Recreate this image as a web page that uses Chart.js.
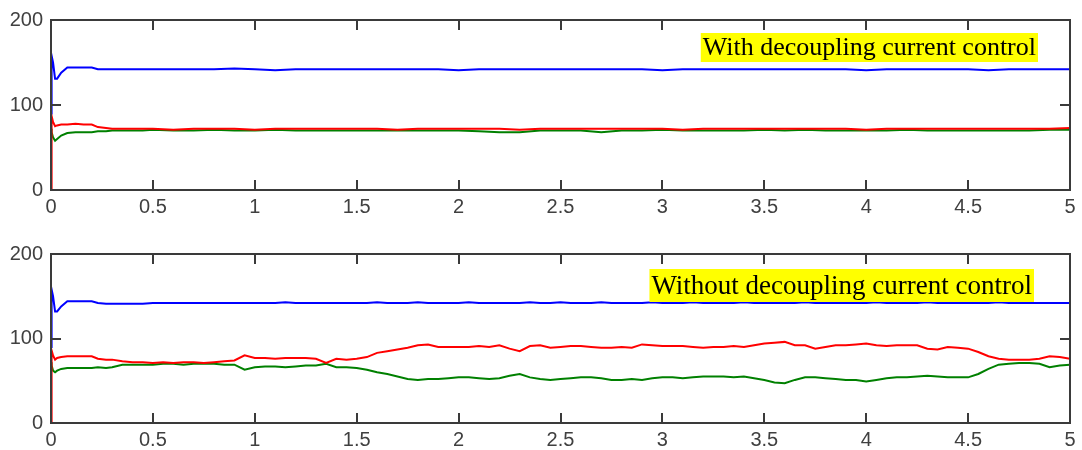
<!DOCTYPE html>
<html>
<head>
<meta charset="utf-8">
<script src="https://cdn.jsdelivr.net/npm/chart.js@4/dist/chart.umd.min.js"></script>
<style>
  body { margin: 0; background: #fff; }
  .box { position: relative; width: 1082px; height: 225px; }
</style>
</head>
<body>
<div class="box"><canvas id="chart_top"></canvas></div>
<div class="box"><canvas id="chart_bottom"></canvas></div>
<script>
// time axis (s): fine steps for the start-up transient, then regular samples
const timeEarly = [0, 0.003, 0.01, 0.02, 0.03, 0.05, 0.08, 0.12, 0.16, 0.2, 0.23, 0.27, 0.3, 0.35, 0.4, 0.45];
const timeTopTail = [0.5, 0.6, 0.7, 0.8, 0.9, 1.0, 1.1, 1.2, 1.3, 1.4,
  1.5, 1.6, 1.7, 1.8, 1.9, 2.0, 2.1, 2.2, 2.3, 2.4,
  2.5, 2.6, 2.7, 2.8, 2.9, 3.0, 3.1, 3.2, 3.3, 3.4,
  3.5, 3.6, 3.7, 3.8, 3.9, 4.0, 4.1, 4.2, 4.3, 4.4,
  4.5, 4.6, 4.7, 4.8, 4.9, 5.0];
const timeBottomTail = [0.5, 0.55, 0.6, 0.65, 0.7, 0.75, 0.8, 0.85, 0.9, 0.95,
  1.0, 1.05, 1.1, 1.15, 1.2, 1.25, 1.3, 1.35, 1.4, 1.45,
  1.5, 1.55, 1.6, 1.65, 1.7, 1.75, 1.8, 1.85, 1.9, 1.95,
  2.0, 2.05, 2.1, 2.15, 2.2, 2.25, 2.3, 2.35, 2.4, 2.45,
  2.5, 2.55, 2.6, 2.65, 2.7, 2.75, 2.8, 2.85, 2.9, 2.95,
  3.0, 3.05, 3.1, 3.15, 3.2, 3.25, 3.3, 3.35, 3.4, 3.45,
  3.5, 3.55, 3.6, 3.65, 3.7, 3.75, 3.8, 3.85, 3.9, 3.95,
  4.0, 4.05, 4.1, 4.15, 4.2, 4.25, 4.3, 4.35, 4.4, 4.45,
  4.5, 4.55, 4.6, 4.65, 4.7, 4.75, 4.8, 4.85, 4.9, 4.95, 5.0];

// With decoupling current control
const topBlue = [90, 158, 150, 131, 131, 138, 144, 144, 144, 144, 142, 142, 142, 142, 142, 142,
  142, 142, 142, 142, 143, 142, 141, 142, 142, 142,
  142, 142, 142, 142, 142, 141, 142, 142, 142, 142,
  142, 142, 142, 142, 142, 141, 142, 142, 142, 142,
  142, 142, 142, 142, 142, 141, 142, 142, 142, 142,
  142, 141, 142, 142, 142, 142];
const topRed = [0, 87, 80, 75, 76, 77, 77, 78, 77, 77, 74, 73, 72, 72, 72, 72,
  72, 71, 72, 72, 72, 71, 72, 72, 72, 72,
  72, 72, 71, 72, 72, 72, 72, 72, 71, 72,
  72, 72, 72, 72, 72, 72, 71, 72, 72, 72,
  72, 72, 72, 72, 72, 71, 72, 72, 72, 72,
  72, 72, 72, 72, 72, 73];
const topGreen = [72, 68, 62, 58, 60, 64, 67, 68, 68, 68, 69, 69, 70, 70, 70, 70,
  71, 70, 70, 71, 70, 70, 71, 70, 70, 70,
  70, 70, 70, 70, 70, 70, 69, 68, 68, 70,
  70, 70, 68, 70, 70, 71, 70, 70, 70, 70,
  71, 70, 71, 70, 70, 70, 70, 71, 70, 70,
  70, 70, 70, 70, 71, 71];

// Without decoupling current control
const bottomBlue = [90, 158, 150, 132, 132, 138, 144, 144, 144, 144, 142, 141, 141, 141, 141, 141,
  142, 142, 142, 142, 142, 142, 142, 142, 142, 142,
  142, 142, 142, 143, 142, 142, 142, 142, 142, 142,
  142, 142, 143, 142, 142, 142, 143, 142, 142, 142,
  142, 143, 142, 142, 142, 142, 142, 143, 142, 142,
  143, 142, 142, 142, 143, 142, 142, 142, 142, 143,
  142, 142, 142, 143, 142, 142, 142, 142, 143, 142,
  142, 142, 142, 142, 143, 142, 142, 142, 142, 142,
  142, 143, 142, 142, 142, 142, 143, 142, 142, 142,
  142, 142, 142, 143, 142, 142, 142, 142, 142, 142, 142];
const bottomRed = [0, 86, 80, 75, 77, 78, 79, 79, 79, 79, 76, 75, 75, 73, 72, 72,
  71, 72, 71, 72, 72, 71, 72, 73, 74, 80,
  77, 77, 76, 77, 77, 77, 76, 71, 76, 75,
  76, 78, 83, 85, 87, 89, 92, 93, 90, 90,
  90, 90, 91, 90, 92, 88, 85, 91, 92, 89,
  90, 91, 91, 90, 89, 89, 90, 89, 93, 92,
  91, 91, 91, 90, 89, 90, 90, 91, 90, 92,
  94, 95, 96, 92, 92, 88, 90, 92, 92, 93,
  94, 92, 91, 92, 92, 92, 88, 87, 90, 89,
  88, 84, 79, 76, 75, 75, 75, 76, 79, 78, 76];
const bottomGreen = [72, 68, 62, 60, 62, 64, 65, 65, 65, 65, 66, 65, 66, 69, 69, 69,
  69, 70, 70, 69, 70, 70, 70, 69, 69, 63,
  66, 67, 67, 66, 67, 68, 68, 70, 66, 66,
  65, 63, 60, 58, 55, 52, 51, 52, 52, 53,
  54, 54, 53, 52, 53, 56, 58, 54, 52, 51,
  52, 53, 54, 54, 53, 51, 51, 52, 51, 53,
  54, 54, 53, 54, 55, 55, 55, 54, 55, 53,
  51, 48, 47, 51, 54, 54, 53, 52, 51, 51,
  49, 51, 53, 54, 54, 55, 56, 55, 54, 54,
  54, 58, 64, 69, 70, 71, 71, 70, 66, 68, 69];

const yTicks = [0, 100, 200];
const xTickStep = 0.5;

function toPoints(times, values) {
  return times.map((t, i) => ({ x: t, y: values[i] }));
}

// frame with inward ticks on all four sides + yellow caption
const framePlugin = {
  id: 'frame',
  afterDatasetsDraw(chart, args, opts) {
    const ctx = chart.ctx;
    const a = chart.chartArea;
    const xs = chart.scales.x;
    const ys = chart.scales.y;
    ctx.save();
    ctx.strokeStyle = '#3a3a3a';
    ctx.lineWidth = 2;
    ctx.strokeRect(a.left, a.top, a.right - a.left, a.bottom - a.top);
    const len = 10;
    ctx.beginPath();
    for (let v = xTickStep; v < xs.max - 1e-6; v += xTickStep) {
      const px = Math.round(xs.getPixelForValue(v));
      ctx.moveTo(px, a.bottom); ctx.lineTo(px, a.bottom - len);
      ctx.moveTo(px, a.top); ctx.lineTo(px, a.top + len);
    }
    yTicks.slice(1, -1).forEach(v => {
      const py = Math.round(ys.getPixelForValue(v));
      ctx.moveTo(a.left, py); ctx.lineTo(a.left + len, py);
      ctx.moveTo(a.right, py); ctx.lineTo(a.right - len, py);
    });
    ctx.stroke();

    // caption
    ctx.font = opts.size + 'px "Liberation Serif"';
    const w = ctx.measureText(opts.text).width;
    const right = a.right - opts.right;
    const top = a.top + opts.top;
    ctx.fillStyle = '#ffff00';
    ctx.fillRect(right - w - 4, top, w + 4, opts.height);
    ctx.fillStyle = '#000';
    ctx.textBaseline = 'middle';
    ctx.fillText(opts.text, right - w - 2, top + opts.height / 2 + 1);
    ctx.restore();
  }
};

function createChart(chartId, times, red, green, blue, caption, xHeight) {
  const ctx = document.getElementById(chartId).getContext('2d');
  return new Chart(ctx, {
    type: 'line',
    data: {
      datasets: [
        { data: toPoints(times, red), borderColor: '#ff0000' },
        { data: toPoints(times, green), borderColor: '#008000' },
        { data: toPoints(times, blue), borderColor: '#0000ff' },
      ]
    },
    options: {
      responsive: true,
      maintainAspectRatio: false,
      animation: false,
      layout: { padding: { top: caption.padTop, right: 12, left: 0, bottom: 0 } },
      elements: {
        line: { borderWidth: 2, tension: 0 },
        point: { radius: 0 }
      },
      scales: {
        x: {
          type: 'linear',
          min: 0,
          max: 5,
          grid: { display: false, drawTicks: false },
          border: { display: false },
          ticks: {
            stepSize: xTickStep,
            color: '#404040',
            padding: 5,
            font: { family: 'Liberation Sans', size: 20 },
            callback: (v) => String(v)
          },
          afterFit: (scale) => { scale.height = xHeight; }
        },
        y: {
          min: 0,
          max: 200,
          grid: { display: false, drawTicks: false },
          border: { display: false },
          afterBuildTicks: (scale) => { scale.ticks = yTicks.map(v => ({ value: v })); },
          ticks: {
            color: '#404040',
            padding: 8,
            font: { family: 'Liberation Sans', size: 20 }
          },
          afterFit: (scale) => { scale.width = 51; }
        }
      },
      plugins: {
        legend: { display: false },
        tooltip: { enabled: false },
        frame: caption
      }
    },
    plugins: [framePlugin]
  });
}

createChart('chart_top', timeEarly.concat(timeTopTail), topRed, topGreen, topBlue,
  { text: 'With decoupling current control', size: 26, right: 32, top: 13, height: 29, padTop: 19 }, 35);
createChart('chart_bottom', timeEarly.concat(timeBottomTail), bottomRed, bottomGreen, bottomBlue,
  { text: 'Without decoupling current control', size: 27, right: 36, top: 15, height: 33, padTop: 29 }, 27);
</script>
</body>
</html>
